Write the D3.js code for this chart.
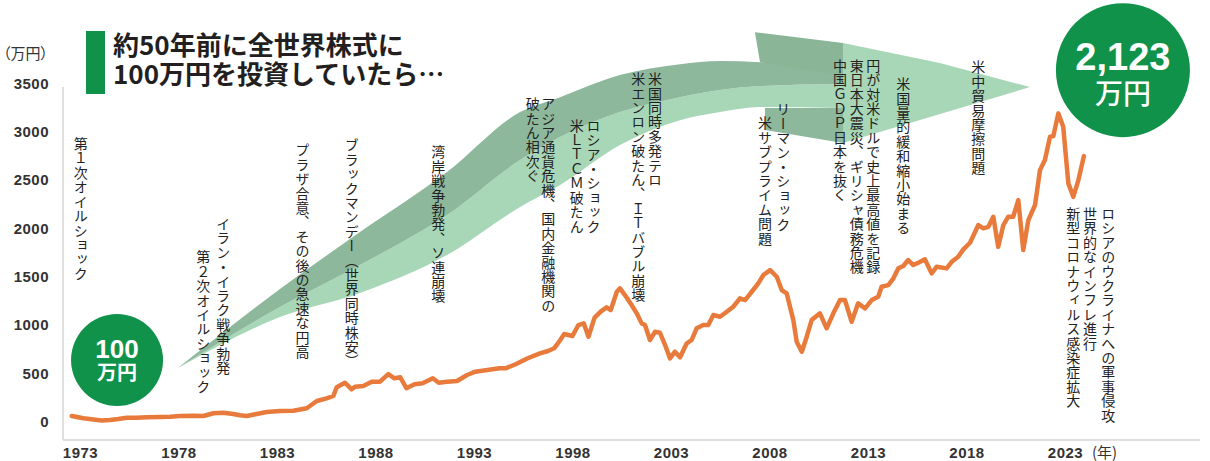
<!DOCTYPE html>
<html lang="ja">
<head>
<meta charset="utf-8">
<script src="https://cdn.jsdelivr.net/npm/d3@7"></script>
<style>
  body { margin: 0; background: #fff; }
  svg { display: block; }
</style>
</head>
<body>
<svg id="chart" width="1210" height="461"></svg>
<script>
// values (year as decimal, 万円)
const years = [
  1972.58, 1973.17, 1973.59, 1974.10, 1974.52, 1974.94, 1975.37, 1975.88, 1976.39, 1977.06,
  1977.57, 1978.08, 1978.75, 1979.26, 1979.77, 1980.27, 1980.78, 1981.12, 1981.46, 1981.97,
  1982.48, 1983.15, 1983.83, 1984.51, 1985.02, 1985.52, 1985.86, 1986.03, 1986.45, 1986.79,
  1986.96, 1987.38, 1987.81, 1988.23, 1988.65, 1988.96, 1989.26, 1989.57, 1989.98, 1990.39,
  1990.91, 1991.21, 1991.63, 1992.14, 1992.65, 1993.07, 1993.68, 1994.29, 1994.60, 1995.11,
  1995.73, 1996.35, 1996.76, 1997.07, 1997.38, 1997.58, 1997.99, 1998.30, 1998.57, 1998.81,
  1999.12, 1999.43, 1999.73, 1999.94, 2000.25, 2000.41, 2000.66, 2001.00, 2001.26, 2001.51,
  2001.68, 2001.93, 2002.19, 2002.44, 2002.70, 2002.95, 2003.20, 2003.46, 2003.80, 2004.05,
  2004.30, 2004.64, 2004.89, 2005.15, 2005.49, 2005.83, 2006.16, 2006.50, 2006.76, 2007.10,
  2007.43, 2007.69, 2008.03, 2008.37, 2008.62, 2008.87, 2009.21, 2009.38, 2009.64, 2009.89,
  2010.14, 2010.56, 2010.90, 2011.24, 2011.58, 2011.83, 2012.17, 2012.50, 2012.85, 2013.19,
  2013.52, 2013.69, 2014.03, 2014.29, 2014.54, 2014.79, 2015.04, 2015.30, 2015.55, 2015.89,
  2016.23, 2016.49, 2016.99, 2017.25, 2017.58, 2017.84, 2018.18, 2018.60, 2018.85, 2019.11,
  2019.36, 2019.61, 2019.87, 2020.12, 2020.37, 2020.63, 2020.88, 2021.14, 2021.48, 2021.73,
  2021.98, 2022.24, 2022.41, 2022.66, 2022.91, 2023.17, 2023.42, 2023.68, 2023.96
];
const values = [
  59, 35, 25, 12, 18, 28, 41, 41, 45, 49,
  52, 59, 62, 59, 87, 93, 80, 66, 59, 80,
  100, 111, 114, 139, 214, 242, 266, 356, 403, 335,
  362, 369, 414, 414, 493, 449, 459, 346, 387, 397,
  449, 403, 414, 421, 483, 517, 535, 552, 552, 594,
  656, 707, 731, 759, 845, 907, 886, 1000, 1018, 879,
  1076, 1138, 1183, 1155, 1344, 1379, 1310, 1207, 1121, 1017,
  1000, 845, 930, 920, 793, 655, 724, 666, 811, 845,
  966, 1000, 1000, 1103, 1086, 1137, 1189, 1276, 1258, 1344,
  1431, 1517, 1568, 1499, 1362, 1328, 1051, 827, 724, 879,
  1051, 1121, 966, 1121, 1258, 1258, 1034, 1224, 1172, 1258,
  1292, 1396, 1413, 1483, 1586, 1610, 1672, 1620, 1644, 1679,
  1534, 1603, 1586, 1654, 1706, 1782, 1851, 2034, 2000, 2016,
  2120, 1809, 2034, 2120, 2120, 2292, 1775, 2085, 2241, 2602,
  2706, 2947, 2954, 3189, 3050, 2465, 2326, 2499, 2747
];

const xTicks = [1973, 1978, 1983, 1988, 1993, 1998, 2003, 2008, 2013, 2018, 2023];
const yTicks = [0, 500, 1000, 1500, 2000, 2500, 3000, 3500];

const titleLines = ['約50年前に全世界株式に', '100万円を投資していたら…'];
const startLabel = ['100', '万円'];
const endLabel = ['2,123', '万円'];

// events, one entry per vertical column
const eventTexts = [
  '第１次オイルショック',
  'イラン・イラク戦争勃発', '第２次オイルショック',
  'プラザ合意、その後の急速な円高',
  'ブラックマンデー（世界同時株安）',
  '湾岸戦争勃発、ソ連崩壊',
  'アジア通貨危機、国内金融機関の', '破たん相次ぐ',
  'ロシア・ショック', '米ＬＴＣＭ破たん',
  '米国同時多発テロ', '米エンロン破たん、ＩＴバブル崩壊',
  'リーマン・ショック', '米サブプライム問題',
  '円が対米ドルで史上最高値を記録', '東日本大震災、ギリシャ債務危機', '中国ＧＤＰ日本を抜く',
  '米国量的緩和縮小始まる',
  '米中貿易摩擦問題',
  'ロシアのウクライナへの軍事侵攻', '世界的なインフレ進行', '新型コロナウィルス感染症拡大'
];
const eventYears = [
  1973.04, 1980.27, 1979.26, 1984.30, 1986.79, 1991.19, 1996.77, 1995.98, 1999.06, 1998.21,
  2002.19, 2001.34, 2008.70, 2007.77, 2013.27, 2012.43, 2011.58, 2014.79, 2018.60, 2025.20,
  2024.27, 2023.42
];
const eventTops = [
  2945, 2120, 1775, 2882, 2933, 2861, 3360, 3360, 3137, 3137,
  3619, 3619, 3306, 3161, 3757, 3757, 3757, 3567, 3740, 2223,
  2223, 2223
];

const green = '#10924a';
const orange = '#e87b3c';
const numFont = '"Liberation Sans", Arial, sans-serif';
const jpFont = '"Noto Sans CJK JP", "Noto Sans", sans-serif';

const svg = d3.select('#chart');

const x = d3.scaleLinear().domain([1973, 2023]).range([80, 1065]);
const y = d3.scaleLinear().domain([0, 3500]).range([421.7, 83.3]);

// Big sweeping arrow (decoration, in chart units)
const bandYears = [1977.97, 1983.15, 1987.21, 1991.63, 1995.34, 1997.37, 2000.41, 2003.46, 2005.49, 2007.52, 2011.73];
const bandTop = [555, 1372, 1961, 2582, 3202, 3357, 3585, 3698, 3730, 3719, 3657];
const bandMid = [555, 1186, 1620, 2137, 2706, 2944, 3202, 3357, 3430, 3471, 3492];
const bandLow = [555, 1082, 1331, 1724, 2220, 2447, 2861, 3119, 3202, 3254, 3244];

const band = (lo, hi) => d3.area()
  .x((d, i) => x(bandYears[i]))
  .y0((d, i) => y(lo[i]))
  .y1((d, i) => y(hi[i]))
  .curve(d3.curveMonotoneX)(bandYears);

const poly = d3.line().x(d => x(d[0])).y(d => y(d[1])).curve(d3.curveLinearClosed);

const arrow = svg.append('g');
arrow.append('path').attr('d', band(bandLow, bandMid)).attr('fill', '#a8d7b8');
arrow.append('path').attr('d', band(bandMid, bandTop)).attr('fill', '#8db89b');
arrow.append('path')
  .attr('d', poly([[2007.77, 3244], [2011.73, 3244], [2011.73, 2882], [2007.77, 3016]]))
  .attr('fill', '#8db89b');
arrow.append('path')
  .attr('d', poly([[2011.73, 3916], [2016.65, 3709], [2021.22, 3461], [2011.73, 2882]]))
  .attr('fill', '#a8d7b8');
arrow.append('path')
  .attr('d', poly([[2007.26, 4029], [2011.73, 3916], [2011.73, 3574], [2007.52, 3719]]))
  .attr('fill', '#8ab597');

// frame
svg.append('line').attr('x1', 63).attr('x2', 63).attr('y1', 87).attr('y2', 440)
  .attr('stroke', '#d6d6d6').attr('stroke-width', 1.5);
svg.append('line').attr('x1', 63).attr('x2', 1200).attr('y1', 440).attr('y2', 440)
  .attr('stroke', '#d6d6d6').attr('stroke-width', 1.5);

// Y axis
const yAxis = svg.append('g')
  .attr('transform', 'translate(63,0)')
  .call(d3.axisLeft(y).tickValues(yTicks).tickFormat(d3.format('d')).tickSize(0).tickPadding(14));
yAxis.select('.domain').remove();
yAxis.selectAll('text')
  .attr('font-family', numFont).attr('font-size', 15).attr('font-weight', 'bold')
  .attr('letter-spacing', 0.5).attr('fill', '#333');

// X axis
const xAxis = svg.append('g')
  .attr('transform', 'translate(0,440)')
  .call(d3.axisBottom(x).tickValues(xTicks).tickFormat(d3.format('d')).tickSize(0).tickPadding(7));
xAxis.select('.domain').remove();
xAxis.selectAll('text')
  .attr('font-family', numFont).attr('font-size', 15).attr('font-weight', 'bold')
  .attr('letter-spacing', 0.5).attr('fill', '#333');

svg.append('text').attr('x', 1092).attr('y', 458)
  .attr('font-family', jpFont).attr('font-size', 15).attr('fill', '#333')
  .text('(年)');
svg.append('text').attr('x', 3).attr('y', 59)
  .attr('font-family', jpFont).attr('font-size', 15).attr('fill', '#333')
  .style('font-feature-settings', '"palt"')
  .text('（万円）');

// Title
svg.append('rect').attr('x', 86).attr('y', 31).attr('width', 19).attr('height', 63).attr('fill', green);
svg.append('g').selectAll('text')
  .data(titleLines)
  .enter()
  .append('text')
  .attr('x', 113)
  .attr('y', (d, i) => 55 + i * 29)
  .attr('font-family', jpFont).attr('font-size', 26).attr('font-weight', 'bold')
  .attr('fill', '#231f20')
  .text(d => d);

// Event notes, vertical text
svg.append('g').selectAll('text')
  .data(eventTexts)
  .enter()
  .append('text')
  .attr('x', (d, i) => x(eventYears[i]))
  .attr('y', (d, i) => y(eventTops[i]))
  .style('writing-mode', 'vertical-rl')
  .attr('font-family', jpFont).attr('font-size', 14).attr('letter-spacing', 0.4)
  .attr('fill', '#222')
  .text(d => d);

// Series line
svg.append('path')
  .datum(values)
  .attr('fill', 'none')
  .attr('stroke', orange)
  .attr('stroke-width', 4.5)
  .attr('stroke-linejoin', 'round')
  .attr('stroke-linecap', 'round')
  .attr('d', d3.line().x((d, i) => x(years[i])).y(d => y(d)));

// Start / end badges
const badge = (year, val, r, lines, sizes, weights, offs) => {
  const cx = x(year), cy = y(val);
  const g = svg.append('g');
  g.append('circle').attr('cx', cx).attr('cy', cy).attr('r', r).attr('fill', green);
  lines.forEach((t, i) => {
    g.append('text').attr('x', cx).attr('y', cy + offs[i])
      .attr('text-anchor', 'middle')
      .attr('font-family', i === 0 ? numFont : jpFont)
      .attr('font-size', sizes[i]).attr('font-weight', weights[i])
      .attr('fill', '#fff')
      .text(t);
  });
};
badge(1974.88, 638, 46, startLabel, [26, 20], ['bold', 'bold'], [-2, 20]);
badge(2025.94, 3636, 67, endLabel, [38, 28], ['bold', 500], [0, 34]);
</script>
</body>
</html>
